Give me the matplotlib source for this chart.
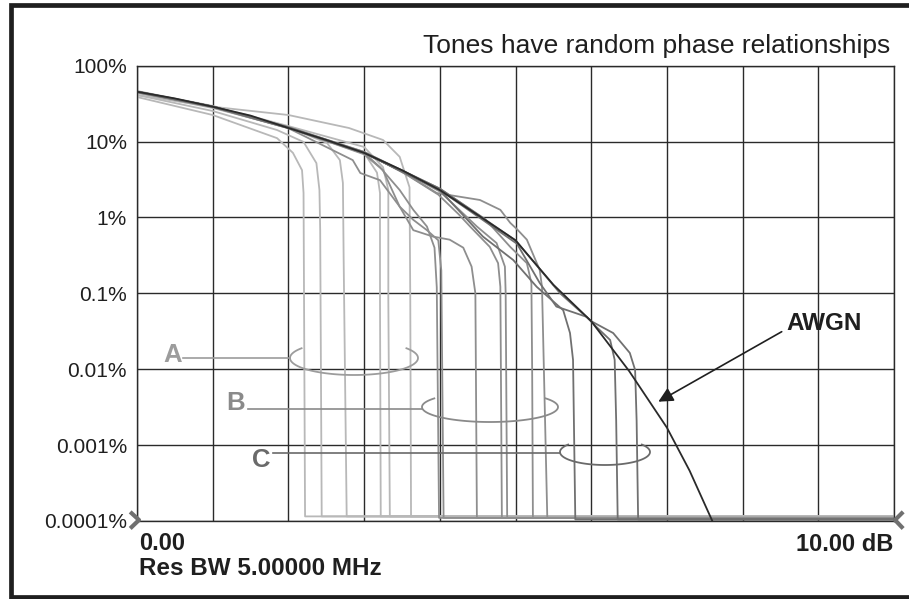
import numpy as np
import matplotlib.pyplot as plt

# CCDF screen: x = dB above average power, y = % of time
x_grid = [0, 1, 2, 3, 4, 5, 6, 7, 8, 9, 10]
y_grid = [1e-4, 1e-3, 1e-2, 1e-1, 1, 10, 100]
y_labels = ["0.0001%", "0.001%", "0.01%", "0.1%", "1%", "10%", "100%"]

# gaussian noise reference trace
awgn_db = [0.0, 0.5, 1.0, 1.5, 2.0, 2.5, 3.0, 3.5, 4.0, 4.5, 5.0, 5.5, 6.0, 6.5, 7.0, 7.3, 7.6]
awgn_pct = [45.4, 37.0, 28.8, 22.0, 15.1, 10.5, 7.1, 4.2, 2.3, 1.08, 0.5, 0.13, 0.043, 0.0095, 0.0017, 0.00046, 0.0001]

# group A tone traces (first to roll off)
a_db = [
    [0.0, 1.0, 1.85, 2.06, 2.18, 2.2, 2.22],
    [0.0, 1.0, 1.85, 2.2, 2.37, 2.41, 2.42, 2.44],
    [0.0, 1.0, 2.02, 2.51, 2.68, 2.72, 2.73, 2.77],
    [0.0, 1.0, 2.0, 3.0, 3.17, 3.21, 3.21, 3.22],
    [0.0, 1.0, 2.0, 3.0, 3.25, 3.32, 3.32, 3.34],
    [0.0, 1.0, 2.0, 2.8, 3.25, 3.47, 3.6, 3.61, 3.62],
]
a_pct = [
    [38.7, 22.4, 11.1, 7.1, 4.2, 2.1, 1.15e-4],
    [41.1, 25.3, 14.2, 9.9, 5.2, 2.3, 0.68, 1.15e-4],
    [43.6, 27.7, 15.1, 9.6, 5.7, 2.85, 0.275, 1.15e-4],
    [45.0, 28.6, 15.1, 7.1, 3.9, 2.1, 0.082, 1.15e-4],
    [46.4, 29.5, 16.0, 8.5, 4.6, 2.3, 0.082, 1.15e-4],
    [41.1, 28.8, 22.4, 15.1, 10.5, 6.3, 2.5, 0.082, 1.15e-4],
]

# group B tone traces
b_db = [
    [0.0, 1.0, 2.0, 3.0, 3.21, 3.47, 3.65, 3.83, 3.93, 3.96, 3.99],
    [0.0, 1.0, 2.0, 2.85, 2.95, 3.21, 3.47, 3.65, 3.83, 3.98, 4.02, 4.05],
    [0.0, 1.0, 2.0, 3.0, 3.25, 3.47, 3.65, 3.91, 4.13, 4.31, 4.42, 4.47, 4.49],
    [0.0, 1.0, 2.0, 3.0, 3.5, 3.98, 4.25, 4.4, 4.66, 4.77, 4.8, 4.82],
    [0.0, 1.0, 2.0, 3.0, 3.5, 4.0, 4.49, 4.75, 4.86, 4.87, 4.89],
    [0.0, 1.0, 2.0, 3.0, 4.0, 4.6, 4.93, 5.15, 5.21, 5.22, 5.23],
    [0.0, 1.0, 2.0, 3.0, 3.6, 3.96, 4.53, 4.8, 4.93, 5.02, 5.15, 5.32, 5.35, 5.42],
]
b_pct = [
    [45.0, 28.8, 15.1, 7.1, 4.6, 2.3, 1.26, 0.76, 0.4, 0.12, 1.1e-4],
    [44.5, 28.3, 15.0, 5.7, 3.85, 3.1, 1.39, 0.93, 0.68, 0.5, 0.2, 1.1e-4],
    [45.5, 29.0, 15.3, 6.8, 4.2, 1.39, 0.68, 0.56, 0.51, 0.4, 0.225, 0.1, 1.1e-4],
    [45.5, 29.0, 15.3, 7.2, 4.0, 2.0, 1.1, 0.76, 0.41, 0.25, 0.122, 1.1e-4],
    [45.0, 28.5, 15.0, 7.0, 4.1, 2.2, 0.76, 0.46, 0.225, 0.1, 1.1e-4],
    [46.0, 29.0, 15.5, 7.3, 2.4, 0.95, 0.41, 0.25, 0.137, 0.01, 1.1e-4],
    [45.0, 29.0, 15.5, 7.3, 3.5, 2.1, 1.7, 1.26, 0.85, 0.7, 0.51, 0.203, 0.122, 1.1e-4],
]

# group C tone traces (last to roll off)
c_db = [
    [0.0, 1.0, 2.0, 3.0, 4.0, 4.57, 4.97, 5.28, 5.63, 5.72, 5.76, 5.79],
    [0.0, 1.0, 2.0, 3.0, 4.0, 5.02, 5.32, 5.54, 5.94, 6.07, 6.25, 6.31, 6.33, 6.35],
    [0.0, 1.0, 2.0, 3.0, 4.0, 5.0, 5.59, 6.0, 6.29, 6.51, 6.58, 6.6, 6.62],
]
c_pct = [
    [45.5, 29.0, 15.3, 7.1, 2.3, 0.56, 0.275, 0.122, 0.06, 0.03, 0.0133, 1.05e-4],
    [45.0, 28.8, 15.2, 7.1, 2.3, 0.45, 0.137, 0.067, 0.049, 0.036, 0.0243, 0.0133, 0.0021, 1.05e-4],
    [45.5, 29.0, 15.3, 7.2, 2.4, 0.5, 0.1, 0.043, 0.03, 0.0164, 0.0098, 0.0021, 1.05e-4],
]

FONT = "Liberation Sans"
INK = "#1f1f1f"

fig = plt.figure(figsize=(9.09, 5.99), dpi=100)
ax = fig.add_axes([137 / 909, 78 / 599, 757 / 909, 455.3 / 599])
ax.set_xlim(0, 10)
ax.set_yscale("log")
ax.set_ylim(1e-4, 100)
ax.set_xticks(x_grid)
ax.set_xticklabels([])
ax.set_yticks(y_grid)
ax.set_yticklabels(y_labels, fontsize=15, family=FONT, color=INK)
ax.yaxis.set_minor_locator(plt.NullLocator())
ax.tick_params(length=0, pad=7.2)
ax.grid(True, color="#2a2a2a", lw=1.0)
ax.set_axisbelow(True)
for s in ax.spines.values():
    s.set_color("#2a2a2a")
    s.set_linewidth(1.0)


def trace(xs, ys, color, lw):
    # after the roll-off each trace runs along the floor to the right edge
    ax.plot(list(xs) + [10], list(ys) + [ys[-1]], color=color, lw=lw,
            solid_joinstyle="round")


for xs, ys in zip(a_db, a_pct):
    trace(xs, ys, "#b8b8b8", 1.3)
for xs, ys in zip(b_db, b_pct):
    trace(xs, ys, "#8e8e8e", 1.3)
for xs, ys in zip(c_db, c_pct):
    trace(xs, ys, "#707070", 1.3)
ax.plot(awgn_db, awgn_pct, color="#2a2a2a", lw=1.3)

# overlay in pixel units for frame, labels and callouts
ov = fig.add_axes([0, 0, 1, 1], facecolor="none")
ov.set_xlim(0, 909)
ov.set_ylim(599, 0)
ov.axis("off")

ov.plot([909, 10.8, 10.8, 909], [5, 5, 597, 597], color=INK, lw=3.4,
        solid_joinstyle="miter")

ov.text(890, 53.3, "Tones have random phase relationships", ha="right",
        va="baseline", fontsize=19, family=FONT, color=INK)

# bracket callouts for the three groups
groups = [("A", 163, 361.7, "#9c9c9c", 183, 357.5, (354, 358), 64, 17),
          ("B", 226.7, 410, "#8a8a8a", 248, 409.3, (490, 407), 68, 15),
          ("C", 252, 466.7, "#6a6a6a", 273, 452.7, (605, 452), 45, 13)]
t = np.radians(np.linspace(-35, 215, 120))  # lower half of ellipse plus hooks
for lab, tx, ty, col, lx, ly, cen, a, b in groups:
    ov.text(tx, ty, lab, ha="left", va="baseline", fontsize=18.5,
            weight="bold", family=FONT, color=col)
    ov.plot([lx, cen[0] - a], [ly, ly], color=col, lw=1.2)
    ov.plot(cen[0] + a * np.cos(t), cen[1] + b * np.sin(t), color=col, lw=1.3)

ov.text(786.7, 330, "AWGN", ha="left", va="baseline", fontsize=17.5,
        weight="bold", family=FONT, color=INK)
ov.annotate("", xy=(658.3, 401.7), xytext=(781.7, 331.7),
            arrowprops=dict(arrowstyle="-|>", color=INK, lw=1.2,
                            mutation_scale=22, shrinkA=0, shrinkB=0))

ov.text(139, 550, "0.00", ha="left", va="baseline", fontsize=17,
        weight="bold", family=FONT, color=INK)
ov.text(139, 575, "Res BW 5.00000 MHz", ha="left", va="baseline",
        fontsize=17.5, weight="bold", family=FONT, color=INK)
ov.text(893, 550.7, "10.00 dB", ha="right", va="baseline", fontsize=17,
        weight="bold", family=FONT, color=INK)

# reference chevrons at both ends of the floor
ov.plot([131.7, 139, 131.7], [513.3, 520, 527], color="#707070", lw=3)
ov.plot([901.7, 895, 901.7], [513.3, 520, 527], color="#707070", lw=3)

fig.savefig("out.png", dpi=100)
